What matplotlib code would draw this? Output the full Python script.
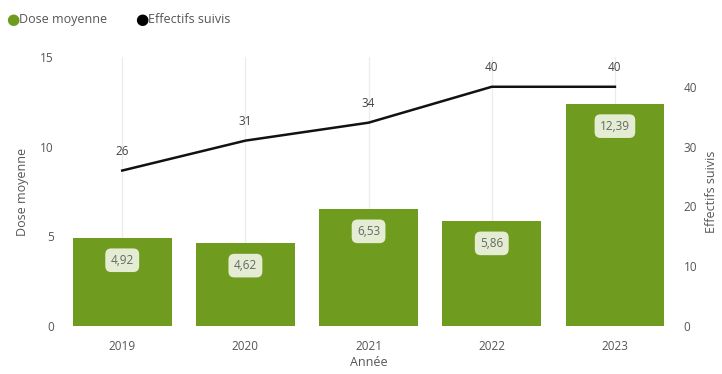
import matplotlib.pyplot as plt
import numpy as np

plt.rcParams['font.family'] = ['Open Sans', 'DejaVu Sans']

years = ["2019", "2020", "2021", "2022", "2023"]
dose = [4.92, 4.62, 6.53, 5.86, 12.39]
effectifs = [26, 31, 34, 40, 40]

bar_color = "#6f9c1e"
text_color = "#555555"

fig = plt.figure(figsize=(7.22, 3.74), dpi=100)
ax = fig.add_axes([0.084, 0.128, 0.853, 0.72])
ax2 = ax.twinx()

x = np.arange(len(years))
ax.bar(x, dose, width=0.8, color=bar_color, zorder=2)
for xi, v in zip(x, dose):
	ax.text(xi, v - 1.25, f"{v:.2f}".replace(".", ","), ha="center", va="center",
			fontsize=8.5, color="#666666", zorder=4,
			bbox=dict(boxstyle="round,pad=0.45,rounding_size=0.5", fc="#e4edd3", ec="none"))

ax2.plot(x, effectifs, color="#111111", linewidth=1.8, zorder=3)
for xi, v in zip(x, effectifs):
	ax2.annotate(str(v), (xi, v), xytext=(0, 14), textcoords="offset points",
				 ha="center", va="center", fontsize=8.5, color="#444444")

ax.set_xlim(-0.5, 4.5)
ax.set_ylim(0, 15)
ax.set_yticks([0, 5, 10, 15])
ax2.set_ylim(0, 45)
ax2.set_yticks([0, 10, 20, 30, 40])
ax.set_xticks(x)
ax.set_xticklabels(years)

ax.grid(True, axis="x", color="#ececec", linewidth=0.9, zorder=0)
ax.set_axisbelow(True)

for a in (ax, ax2):
	for s in a.spines.values():
		s.set_visible(False)
	a.tick_params(length=0, labelsize=8.5, colors=text_color, pad=5)
ax.tick_params(axis="x", pad=10)

ax.set_xlabel("Année", fontsize=9, color=text_color, labelpad=2)
ax.set_ylabel("Dose moyenne", fontsize=9, color=text_color, labelpad=8)
ax2.set_ylabel("Effectifs suivis", fontsize=9, color=text_color, labelpad=6)

# legend
fig.text(0.008, 0.947, "●", color=bar_color, fontsize=11, va="center", family="DejaVu Sans")
fig.text(0.026, 0.947, "Dose moyenne", color=text_color, fontsize=9, va="center")
fig.text(0.187, 0.947, "●", color="black", fontsize=11, va="center", family="DejaVu Sans")
fig.text(0.205, 0.947, "Effectifs suivis", color=text_color, fontsize=9, va="center")

fig.savefig("out.png", dpi=100)
